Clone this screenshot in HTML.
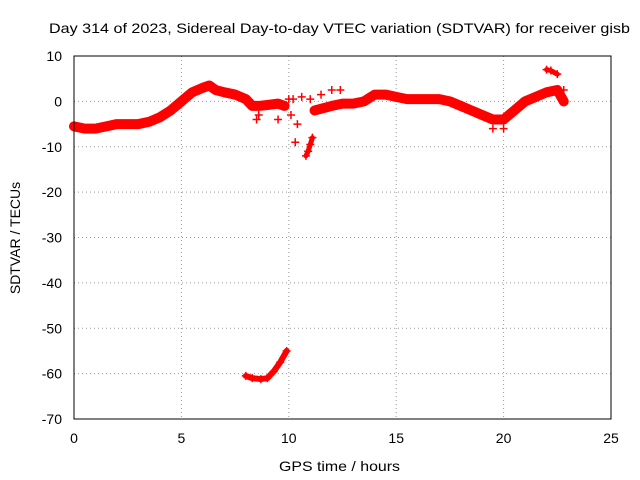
<!DOCTYPE html>
<html><head><meta charset="utf-8">
<style>
body{margin:0;background:#fff;}
svg{display:block;font-family:"Liberation Sans",sans-serif;}
</style></head>
<body>
<svg id="chart" width="640" height="480">
<rect width="640" height="480" fill="#fff"/>
<text x="49" y="33" font-size="14" textLength="581" lengthAdjust="spacingAndGlyphs">Day 314 of 2023, Sidereal Day-to-day VTEC variation (SDTVAR) for receiver gisb</text>
<text x="279" y="471" font-size="14" textLength="121" lengthAdjust="spacingAndGlyphs">GPS time / hours</text>
<text x="20" y="238" font-size="14" text-anchor="middle" transform="rotate(-90 20 238)">SDTVAR / TECUs</text>
<g id="grid"></g>
<g id="axes"></g>
<g id="marks"></g>
<rect x="74" y="56" width="537" height="363" fill="none" stroke="#000"/>
</svg>
<script>
const xTicks=[0,5,10,15,20,25];
const yTicks=[10,0,-10,-20,-30,-40,-50,-60,-70];
const seg1T=[0,0.5,1,1.5,2,2.5,3,3.5,4,4.5,5,5.5,6,6.3,6.6,7,7.5,8,8.3,8.6,9,9.5,9.8];
const seg1V=[-5.5,-6,-6,-5.5,-5,-5,-5,-4.5,-3.5,-2,0,2,3,3.5,2.5,2,1.5,0.5,-1,-1,-0.8,-0.5,-1];
const seg2T=[10.8,10.9,11,11.1];
const seg2V=[-12,-11,-9.5,-8];
const seg3T=[11.2,11.6,12,12.5,13,13.5,14,14.5,15,15.5,16,16.5,17,17.5,18,18.5,19,19.5,20,20.5,21,21.5,22,22.5,22.8];
const seg3V=[-2,-1.5,-1,-0.5,-0.5,0,1.5,1.5,1,0.5,0.5,0.5,0.5,0,-1,-2,-3,-4,-4,-2,0,1,2,2.5,0];
const seg4T=[22,22.2,22.5];
const seg4V=[7,6.8,6];
const seg5T=[8,8.3,8.7,9,9.3,9.6,9.9];
const seg5V=[-60.5,-61,-61.2,-61,-59.5,-57.5,-55];
const scatT=[8.5,9.5,10,10.2,10.4,10.6,11,11.5,12,12.4,10.3,10.1,8.6,19.5,20,22.8];
const scatV=[-4,-4,0.5,0.5,-5,1,0.5,1.5,2.5,2.5,-9,-3,-3,-6,-6,2.5];

const X=t=>74+t*537/25;
const Y=v=>56+(10-v)*363/80;
const NS="http://www.w3.org/2000/svg";
function mk(tag,attrs,parent){const e=document.createElementNS(NS,tag);for(const k in attrs)e.setAttribute(k,attrs[k]);document.getElementById(parent).appendChild(e);return e;}
xTicks.forEach(t=>{
  if(t>0&&t<25){const g=mk('line',{x1:X(t),x2:X(t),y1:56,y2:419,stroke:'#999','stroke-dasharray':'1,3'},'grid');
  
  }
  const l=mk('text',{x:X(t),y:443,'font-size':14,'text-anchor':'middle'},'axes');l.textContent=t;
  
  
});
yTicks.forEach(v=>{
  if(v<10&&v>-70){const g=mk('line',{x1:74,x2:611,y1:Y(v),y2:Y(v),stroke:'#999','stroke-dasharray':'1,3'},'grid');
  
  }
  const l=mk('text',{x:62,y:Y(v)+5,'font-size':14,'text-anchor':'end'},'axes');l.textContent=v;
  
  
});
function series(T,V,w){
  const pts=T.map((t,i)=>X(t)+','+Y(V[i])).join(' ');
  const p=mk('polyline',{points:pts,fill:'none',stroke:'#f00','stroke-width':w,'stroke-linejoin':'round','stroke-linecap':'round'},'marks');
  
  
  T.forEach((t,i)=>{
    const m=mk('path',{d:`M${X(t)-4},${Y(V[i])}h8M${X(t)},${Y(V[i])-4}v8`,stroke:'#f00','stroke-width':1.5},'marks');
    
    
  });
}
series(seg1T,seg1V,10);
series(seg2T,seg2V,5);
series(seg3T,seg3V,10);
series(seg4T,seg4V,5);
series(seg5T,seg5V,6);
scatT.forEach((t,i)=>{
  const m=mk('path',{d:`M${X(t)-4},${Y(scatV[i])}h8M${X(t)},${Y(scatV[i])-4}v8`,stroke:'#f00','stroke-width':1.5},'marks');
  
  
});
</script>
</body></html>
